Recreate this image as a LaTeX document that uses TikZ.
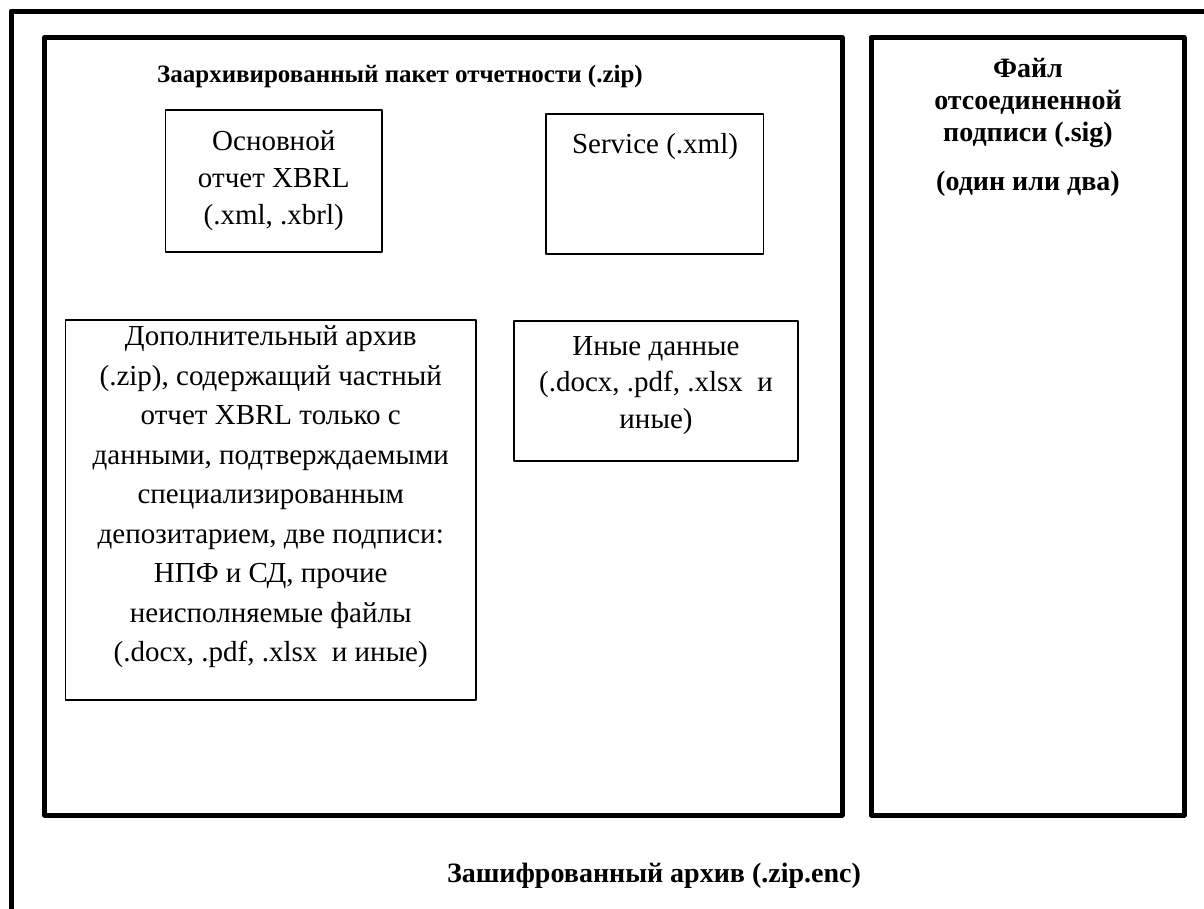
\documentclass[tikz,border=0pt]{standalone}
\usepackage{fontspec}
\setmainfont{Liberation Serif}
\begin{document}
\begin{tikzpicture}[x=1pt,y=-1pt,line join=round,
  frame/.style={draw,line width=5pt,inner sep=0pt,outer sep=0pt,anchor=north west},
  filebox/.style={draw,line width=1.3pt,inner sep=0pt,outer sep=0pt,anchor=north west,align=center},
  plain/.style={font=\fontsize{29}{37}\selectfont},
  heading/.style={font=\fontsize{28}{32}\selectfont\bfseries,align=center,inner sep=0pt}]
  \clip (0,0) rectangle (1204,908);
  \node[frame,minimum width=1219pt,minimum height=919pt] (enc) at (11,11) {};
  \node[frame,minimum width=797.5pt,minimum height=777.5pt] (zip) at (44.5,37.5) {};
  \node[frame,minimum width=313pt,minimum height=777.5pt] (sig) at (871,37.5) {};
  \node[filebox,plain,minimum width=216.5pt,minimum height=142pt] (main) at (165.5,110)
    {Основной\\отчет XBRL\\(.xml, .xbrl)};
  \node[filebox,minimum width=217.5pt,minimum height=140pt] (service) at (546,114) {};
  \node[plain,anchor=base,inner sep=0pt] (servicetext) at (655,153) {Service (.xml)};
  \node[filebox,minimum width=410.5pt,minimum height=380pt] (extra) at (65.5,320) {};
  \node[plain,font=\fontsize{29}{39.5}\selectfont,align=center,anchor=north,inner sep=0pt] (extratext) at (270.75,325.5)
    {Дополнительный архив\\(.zip), содержащий частный\\отчет XBRL только с\\данными, подтверждаемыми\\специализированным\\депозитарием, две подписи:\\НПФ и СД, прочие\\неисполняемые файлы\\(.docx, .pdf, .xlsx\ \ и иные)};
  \node[filebox,minimum width=284pt,minimum height=140pt] (other) at (514,321) {};
  \node[plain,font=\fontsize{29}{36.5}\selectfont,align=center,anchor=north,inner sep=0pt] (othertext) at (656,336)
    {Иные данные\\(.docx, .pdf, .xlsx\ \ и\\иные)};
  \node[heading,font=\fontsize{25}{31.5}\selectfont\bfseries,anchor=base] (ziptitle) at (400,82) {Заархивированный пакет отчетности (.zip)};
  \node[heading,anchor=north] (sigtext) at (1028,58)
    {Файл\\отсоединенной\\подписи (.sig)\\[17pt](один или два)};
  \node[heading,anchor=base] (enctitle) at (654,882) {Зашифрованный архив (.zip.enc)};
\end{tikzpicture}
\end{document}
